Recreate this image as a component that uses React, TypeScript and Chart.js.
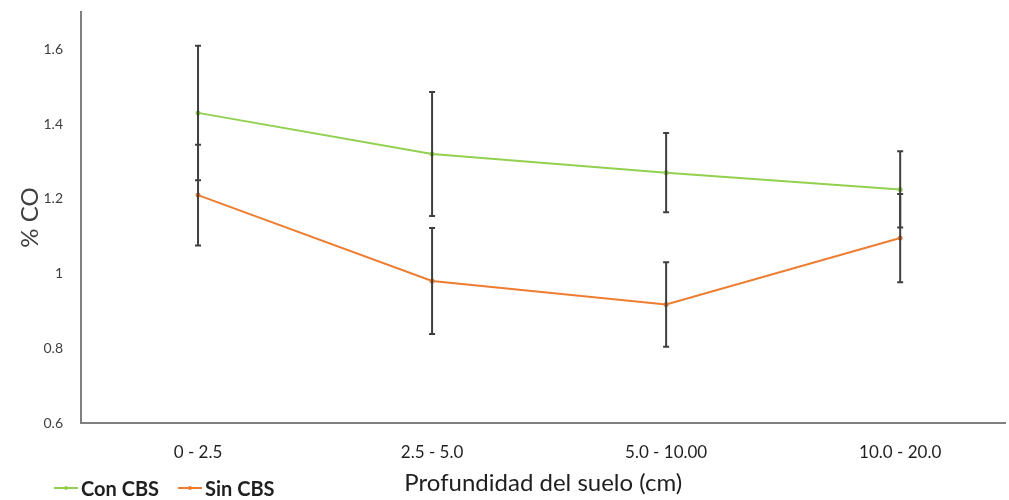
import React, { useEffect, useRef } from "react";
import { Chart, registerables } from "chart.js";

Chart.register(...registerables);

const categories = ["0 - 2.5", "2.5 - 5.0", "5.0 - 10.00", "10.0 - 20.0"];
const conCBS = [1.43, 1.32, 1.27, 1.225];
const conCBSErr = [0.18, 0.166, 0.106, 0.102];
const sinCBS = [1.21, 0.98, 0.917, 1.095];
const sinCBSErr = [0.135, 0.142, 0.113, 0.118];
const yTicks = [0.6, 0.8, 1.0, 1.2, 1.4, 1.6];
const seriesNames = ["Con CBS", "Sin CBS"];

const GREEN = "#92D050";
const ORANGE = "#ED7D31";
const FONT = "Lato, 'Open Sans', sans-serif";

const errorBarPlugin = {
  id: "errorBars",
  afterDatasetsDraw(chart: any) {
    const ctx = chart.ctx;
    const xs = chart.scales.x;
    const ys = chart.scales.y;
    const errs = [conCBSErr, sinCBSErr];
    chart.data.datasets.forEach((ds: any, di: number) => {
      ds.data.forEach((p: any, i: number) => {
        const e = errs[di][i];
        const x = xs.getPixelForValue(p.x);
        const yTop = ys.getPixelForValue(p.y + e);
        const yBot = ys.getPixelForValue(p.y - e);
        ctx.save();
        ctx.strokeStyle = "#3f3f3f";
        ctx.lineWidth = 2;
        ctx.beginPath();
        ctx.moveTo(x, yTop);
        ctx.lineTo(x, yBot);
        ctx.moveTo(x - 3, yTop);
        ctx.lineTo(x + 3, yTop);
        ctx.moveTo(x - 3, yBot);
        ctx.lineTo(x + 3, yBot);
        ctx.stroke();
        ctx.restore();
      });
    });
  },
};

export default function App() {
  const ref = useRef<HTMLCanvasElement | null>(null);

  useEffect(() => {
    if (!ref.current) return;
    const chart = new Chart(ref.current, {
      type: "line",
      data: {
        datasets: [
          {
            label: seriesNames[0],
            data: conCBS.map((y, i) => ({ x: i, y })),
            borderColor: GREEN,
            backgroundColor: GREEN,
            borderWidth: 2,
            pointRadius: 1.5,
            pointHoverRadius: 1.5,
            tension: 0,
          },
          {
            label: seriesNames[1],
            data: sinCBS.map((y, i) => ({ x: i, y })),
            borderColor: ORANGE,
            backgroundColor: ORANGE,
            borderWidth: 2,
            pointRadius: 1.5,
            pointHoverRadius: 1.5,
            tension: 0,
          },
        ],
      },
      options: {
        animation: false,
        responsive: true,
        maintainAspectRatio: false,
        layout: { padding: { top: 12, left: 0, right: 0, bottom: 0 } },
        plugins: {
          legend: { display: false },
          tooltip: { enabled: false },
        },
        scales: {
          x: {
            type: "linear",
            min: -0.5,
            max: 3.45,
            grid: { display: false, drawTicks: false },
            border: { display: true, color: "#808080", width: 2 },
            afterBuildTicks: (scale: any) => {
              scale.ticks = categories.map((_, i) => ({ value: i }));
            },
            afterFit: (scale: any) => {
              scale.height = 77;
              scale.paddingLeft = 0;
              scale.paddingRight = 0;
            },
            ticks: {
              padding: 19,
              color: "#1f1f1f",
              font: { family: FONT, size: 17 },
              callback: (v: any) => categories[Math.round(Number(v))] ?? "",
            },
            title: {
              display: true,
              text: "Profundidad del suelo (cm)",
              color: "#1f1f1f",
              font: { family: FONT, size: 24 },
              padding: { top: 0, bottom: 2 },
            },
          },
          y: {
            min: 0.6,
            max: 1.7,
            grid: { display: false, drawTicks: false },
            border: { display: true, color: "#808080", width: 2 },
            afterBuildTicks: (scale: any) => {
              scale.ticks = yTicks.map((v) => ({ value: v }));
            },
            afterFit: (scale: any) => {
              scale.width = 81;
              scale.paddingTop = 0;
              scale.paddingBottom = 0;
            },
            ticks: {
              padding: 18,
              color: "#404040",
              font: { family: FONT, size: 14 },
              callback: (v: any) => String(Math.round(Number(v) * 10) / 10),
            },
            title: {
              display: true,
              text: "% CO",
              color: "#404040",
              font: { family: FONT, size: 24 },
              padding: { top: 16, bottom: 0 },
            },
          },
        },
      },
      plugins: [errorBarPlugin],
    } as any);
    return () => chart.destroy();
  }, []);

  const legendItem = (color: string, text: string, left: number) => (
    <div style={{ position: "absolute", left, top: 476, display: "flex", alignItems: "center" }}>
      <svg width="24" height="10" style={{ marginRight: 3 }}>
        <line x1="0" y1="5" x2="24" y2="5" stroke={color} strokeWidth="2" />
        <circle cx="12" cy="5" r="2" fill={color} />
      </svg>
      <span style={{ fontFamily: FONT, fontWeight: 700, fontSize: 20, color: "#1f1f1f" }}>{text}</span>
    </div>
  );

  return (
    <div style={{ position: "fixed", left: 0, top: 0, width: 1009, height: 500, background: "#fff" }}>
      <canvas ref={ref} />
      {legendItem(GREEN, seriesNames[0], 54)}
      {legendItem(ORANGE, seriesNames[1], 178)}
    </div>
  );
}
